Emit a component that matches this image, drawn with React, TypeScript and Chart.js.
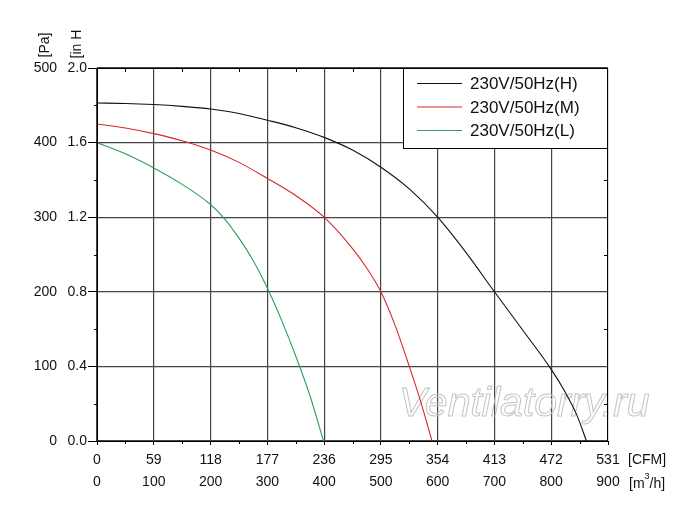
import React, { useEffect, useRef } from "react";
import { Chart, registerables } from "chart.js";

Chart.register(...registerables);

// Flow (m³/h) and pressure (Pa)
const flowH = [0, 50, 100, 150, 200, 250, 300, 350, 400, 450, 500, 550, 600, 650, 700, 750, 800, 825, 845, 862];
const paH = [453, 452.5, 451, 448.5, 445, 439, 430, 420, 407, 390, 367, 338, 300, 252.5, 200, 148.5, 96, 65, 35, 0];

const flowM = [0, 50, 100, 150, 200, 250, 300, 350, 400, 450, 475, 500, 525, 550, 570, 590];
const paM = [425, 419.5, 412, 402.5, 390, 373.5, 352, 329, 300, 258, 232, 200, 155, 100, 53, 0];

const flowL = [0, 50, 100, 150, 200, 225, 250, 275, 300, 325, 350, 375, 399];
const paL = [400, 385, 366, 344, 317, 297.5, 272, 242, 205, 162, 114, 61, 0];

const seriesLabels = ["230V/50Hz(H)", "230V/50Hz(M)", "230V/50Hz(L)"];
const seriesColors = ["#111111", "#d9262e", "#2e9e58"];

const flowTicks = [0, 100, 200, 300, 400, 500, 600, 700, 800, 900];
const cfmTicks = [0, 59, 118, 177, 236, 295, 354, 413, 472, 531];
const paTicks = [0, 100, 200, 300, 400, 500];
const inhTicks = ["0.0", "0.4", "0.8", "1.2", "1.6", "2.0"];

const FONT = "'Liberation Sans', Arial, sans-serif";

const toPoints = (xs: number[], ys: number[]) => xs.map((x, i) => ({ x, y: ys[i] }));

const decorPlugin = {
  id: "decor",
  beforeDatasetsDraw(chart: any) {
    const ctx = chart.ctx;
    ctx.save();
    ctx.font = `italic 41px ${FONT}`;
    ctx.strokeStyle = "#c4c4c4";
    ctx.lineWidth = 1;
    ctx.textBaseline = "alphabetic";
    ctx.strokeText("Ventilatorry.ru", 399, 416);
    ctx.restore();
  },
  afterDraw(chart: any) {
    const ctx = chart.ctx;
    const a = chart.chartArea;
    const xs = chart.scales.x;
    const ys = chart.scales.y;
    ctx.save();
    // frame
    ctx.strokeStyle = "#000";
    ctx.lineWidth = 1;
    ctx.strokeRect(a.left + 0.5, a.top + 0.5, a.right - a.left - 1, a.bottom - a.top);
    // minor ticks
    ctx.beginPath();
    for (let v = 50; v < 900; v += 100) {
      const px = Math.round(xs.getPixelForValue(v)) + 0.5;
      ctx.moveTo(px, a.bottom);
      ctx.lineTo(px, a.bottom + 3);
      ctx.moveTo(px, a.top);
      ctx.lineTo(px, a.top + 4);
    }
    for (let v = 50; v < 500; v += 100) {
      const py = Math.round(ys.getPixelForValue(v)) + 0.5;
      ctx.moveTo(a.left, py);
      ctx.lineTo(a.left - 3, py);
      ctx.moveTo(a.right, py);
      ctx.lineTo(a.right - 4, py);
    }
    ctx.stroke();

    // unit labels
    ctx.fillStyle = "#111";
    ctx.font = `14px ${FONT}`;
    ctx.textAlign = "center";
    ctx.textBaseline = "middle";
    const rot = (t: string, x: number, y: number) => {
      ctx.save();
      ctx.translate(x, y);
      ctx.rotate(-Math.PI / 2);
      ctx.fillText(t, 0, 0);
      ctx.restore();
    };
    rot("[Pa]", 45, 45);
    rot("[in H", 77, 44);
    ctx.textAlign = "left";
    ctx.fillText("[CFM]", 628, 460);
    ctx.fillText("[m", 629, 484);
    const w1 = ctx.measureText("[m").width;
    ctx.font = `9px ${FONT}`;
    ctx.fillText("3", 629 + w1, 477);
    const w2 = ctx.measureText("3").width;
    ctx.font = `14px ${FONT}`;
    ctx.fillText("/h]", 629 + w1 + w2, 484);

    // legend
    const lw = 205;
    const lh = 80;
    const lx = a.right - lw;
    const ly = a.top;
    ctx.fillStyle = "#fff";
    ctx.fillRect(lx, ly, lw, lh);
    ctx.strokeStyle = "#000";
    ctx.strokeRect(lx + 0.5, ly + 0.5, lw - 1, lh);
    ctx.font = `17px ${FONT}`;
    ctx.textBaseline = "middle";
    ctx.textAlign = "left";
    chart.data.datasets.forEach((ds: any, i: number) => {
      const yy = ly + 15.5 + i * 23.5;
      ctx.strokeStyle = ds.borderColor;
      ctx.lineWidth = 1;
      ctx.beginPath();
      ctx.moveTo(lx + 14, yy);
      ctx.lineTo(lx + 59, yy);
      ctx.stroke();
      ctx.fillStyle = "#111";
      ctx.fillText(ds.label, lx + 67, yy + 1);
    });
    ctx.restore();
  },
};

export default function App() {
  const ref = useRef<HTMLCanvasElement | null>(null);
  useEffect(() => {
    if (!ref.current) return;
    const tickFont = { family: FONT, size: 14 };
    const chart = new Chart(ref.current, {
      type: "line",
      data: {
        datasets: [
          { label: seriesLabels[0], data: toPoints(flowH, paH), borderColor: seriesColors[0] },
          { label: seriesLabels[1], data: toPoints(flowM, paM), borderColor: seriesColors[1] },
          { label: seriesLabels[2], data: toPoints(flowL, paL), borderColor: seriesColors[2] },
        ].map((d) => ({
          ...d,
          borderWidth: 1.1,
          pointRadius: 0,
          fill: false,
          cubicInterpolationMode: "monotone" as const,
          xAxisID: "x",
          yAxisID: "y",
        })),
      },
      options: {
        animation: false,
        responsive: false,
        layout: { padding: { top: 68, right: 92, left: 0, bottom: 0 } },
        plugins: { legend: { display: false }, tooltip: { enabled: false } },
        scales: {
          x: {
            type: "linear",
            position: "bottom",
            weight: 2,
            min: 0,
            max: 900,
            afterBuildTicks: (s: any) => {
              s.ticks = flowTicks.map((v) => ({ value: v }));
            },
            ticks: {
              font: tickFont,
              color: "#111",
              padding: 3,
              maxRotation: 0,
              autoSkip: false,
              callback: (v: any) => String(v),
            },
            grid: { drawOnChartArea: true, drawTicks: false, color: "#444", lineWidth: 1.2 },
            border: { display: false },
            afterFit: (s: any) => {
              s.height = 41;
            },
          },
          xc: {
            type: "linear",
            position: "bottom",
            weight: 1,
            min: 0,
            max: 531,
            afterBuildTicks: (s: any) => {
              s.ticks = cfmTicks.map((v) => ({ value: v }));
            },
            ticks: {
              font: tickFont,
              color: "#111",
              padding: 7,
              maxRotation: 0,
              autoSkip: false,
              callback: (v: any) => String(v),
            },
            grid: { drawOnChartArea: false, drawTicks: true, tickLength: 4, color: "#000" },
            border: { display: true, color: "#000" },
            afterFit: (s: any) => {
              s.height = 30;
            },
          },
          y: {
            type: "linear",
            position: "left",
            weight: 2,
            min: 0,
            max: 500,
            afterBuildTicks: (s: any) => {
              s.ticks = paTicks.map((v) => ({ value: v }));
            },
            ticks: { font: tickFont, color: "#111", padding: 0, callback: (v: any) => String(v) },
            grid: { drawOnChartArea: true, drawTicks: false, color: "#444", lineWidth: 1.2 },
            border: { display: false },
            afterFit: (s: any) => {
              s.width = 57;
            },
          },
          yh: {
            type: "linear",
            position: "left",
            weight: 1,
            min: 0,
            max: 500,
            afterBuildTicks: (s: any) => {
              s.ticks = paTicks.map((v) => ({ value: v }));
            },
            ticks: {
              font: tickFont,
              color: "#111",
              padding: 1,
              callback: (_v: any, i: number) => inhTicks[i],
            },
            grid: { drawOnChartArea: false, drawTicks: true, tickLength: 9, color: "#000" },
            border: { display: true, color: "#000" },
            afterFit: (s: any) => {
              s.width = 40;
            },
          },
        },
      },
      plugins: [decorPlugin],
    } as any);
    return () => chart.destroy();
  }, []);
  return (
    <div style={{ position: "fixed", left: 0, top: 0, width: 700, height: 512, background: "#fff" }}>
      <canvas ref={ref} width={700} height={512} style={{ width: 700, height: 512 }} />
    </div>
  );
}
